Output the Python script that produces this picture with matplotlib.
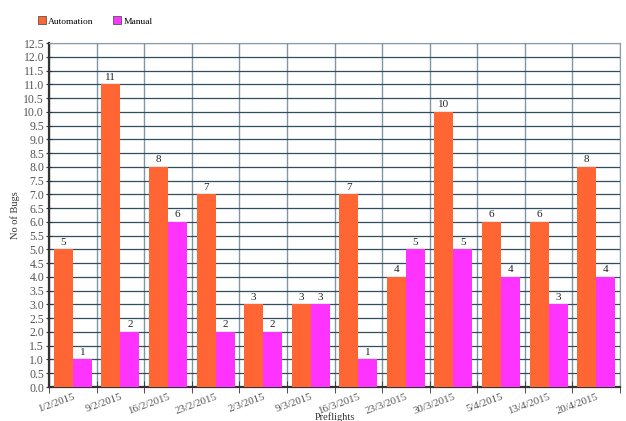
import matplotlib
matplotlib.use("Agg")
import matplotlib.pyplot as plt
import numpy as np

categories = ["1/2/2015", "9/2/2015", "16/2/2015", "23/2/2015", "2/3/2015", "9/3/2015",
              "16/3/2015", "23/3/2015", "30/3/2015", "5/4/2015", "13/4/2015", "20/4/2015"]
automation = [5, 11, 8, 7, 3, 3, 7, 4, 10, 6, 6, 8]
manual = [1, 2, 6, 2, 2, 3, 1, 5, 5, 4, 3, 4]

plt.rcParams['font.family'] = ['Liberation Serif', 'DejaVu Serif']

fig = plt.figure(figsize=(6.26, 4.21), dpi=100)
ax = fig.add_axes([49/626, 34/421, 571/626, 344/421])

x = np.arange(len(categories))
w = 0.4
c_auto = '#FF6633'
c_man = '#FF33FF'
b1 = ax.bar(x - w/2, automation, w, color=c_auto, zorder=3)
b2 = ax.bar(x + w/2, manual, w, color=c_man, zorder=3)

for rect, v in zip(b1, automation):
    ax.text(rect.get_x() + rect.get_width()/2, v + 0.1, str(v), ha='center', va='bottom',
            fontsize=8, color='#222222', zorder=4)
for rect, v in zip(b2, manual):
    ax.text(rect.get_x() + rect.get_width()/2, v + 0.1, str(v), ha='center', va='bottom',
            fontsize=8, color='#222222', zorder=4)

ax.set_xlim(-0.5, len(categories) - 0.5)
ax.set_ylim(0, 12.5)
yt = np.arange(0, 12.51, 0.5)
ax.set_yticks(yt)
ax.set_yticklabels([f"{v:.1f}" for v in yt])
ax.set_xticks(x)
ax.set_xticklabels(categories, rotation=20, ha='right', rotation_mode='anchor')
ax.set_xticks(np.arange(-0.5, len(categories) - 0.4, 1), minor=True)

ax.grid(axis='y', which='major', color='#2F4F5F', linewidth=0.9, zorder=0)
ax.grid(axis='x', which='minor', color='#7F97A8', linewidth=1.0, zorder=0)
ax.tick_params(axis='x', which='major', length=0, labelsize=7.8, pad=4, labelcolor='#555555')
ax.tick_params(axis='x', which='minor', length=8, direction='inout', color='#333333')
ax.tick_params(axis='y', length=5, direction='inout', labelsize=8.5, color='#333333',
               labelcolor='#555555', pad=1)

for s in ['left', 'bottom']:
    ax.spines[s].set_color('#333333')
    ax.spines[s].set_linewidth(1.6)
ax.spines['top'].set_color('#8C9BA8')
ax.spines['right'].set_color('#8C9BA8')

ax.set_ylabel('No of Bugs', fontsize=7.5, color='#333333')
ax.yaxis.set_label_coords(-29/571, 0.5)
ax.set_xlabel('Preflights', fontsize=7.5, color='#333333')
ax.xaxis.set_label_coords((335 - 49)/571, -25.5/344)

leg = fig.legend([b1, b2], ['Automation', 'Manual'], loc='upper left',
                 bbox_to_anchor=(29/626, 1 - 8/421), ncol=2, frameon=False,
                 fontsize=6.8, handlelength=0.85, handleheight=0.85,
                 columnspacing=2.0, handletextpad=0.3)
for h in leg.legend_handles:
    h.set_edgecolor('#555555')
    h.set_linewidth(0.6)

fig.savefig('out.png', dpi=100)
